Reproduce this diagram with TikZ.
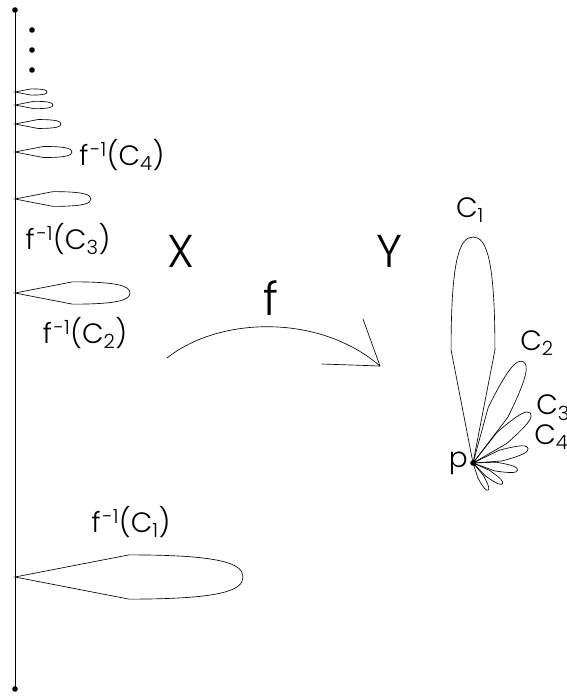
\documentclass[tikz,border=0pt]{standalone}
\usepackage{fontspec}
\setmainfont{Poppins}[UprightFont=* Light]
\newcommand{\finv}[1]{f\kern2pt\textsuperscript{-1}(C\textsubscript{#1})}
\begin{document}
\begin{tikzpicture}[x=1pt,y=-1pt,line width=0.65pt,
    petal/.pic={\draw (0,0) -- (0.5,0.097) .. controls (0.9,0.097) and (1,0.06) .. (1,0)
                .. controls (1,-0.06) and (0.9,-0.097) .. (0.5,-0.097) -- cycle;},
    lbl/.style={inner sep=0pt,font=\fontsize{28}{28}\selectfont},
    big/.style={inner sep=0pt,font=\fontsize{46}{46}\selectfont}]
  \useasboundingbox (0,0) rectangle (566,696);

  % the space X
  \coordinate (xtop) at (15,10);
  \coordinate (xbot) at (15,689);
  \draw (xtop) -- (xbot);
  \fill (xtop) circle (2.8);
  \fill (xbot) circle (2.8);
  \foreach \y in {30,50,70}
    \fill (32,\y) circle (2.8);

  % preimages of the loops
  \foreach \len/\y in {228/577, 115/293, 76/199, 57/152, 46/124, 38/105, 32/92}
    \pic[scale=\len] at (15,\y) {petal};

  \node[lbl] (pre1) at (131,522) {\finv{1}};
  \node[lbl] (pre2) at (85,333) {\finv{2}};
  \node[lbl] (pre3) at (68,239) {\finv{3}};
  \node[lbl,anchor=west] (pre4) at (79,155) {\finv{4}};

  \node[big] (X) at (181,251) {X};
  \node[big] (Y) at (389,251) {Y};

  % the map f
  \coordinate (fstart) at (167,358);
  \coordinate (ftip) at (380,366);
  \coordinate (barb1) at (363,319);
  \coordinate (barb2) at (322,364);
  \draw (fstart) .. controls (220,316) and (320,314) .. (ftip);
  \draw (barb1) -- (ftip) -- (barb2);
  \node[big] (f) at (271,298) {f};

  % the space Y: loops at p
  \coordinate (p) at (473,463);
  \foreach \len/\ang in {226/90, 113/63.7, 76/41, 57/15, 45/-9, 36/-35, 31/-61}
    \pic[rotate=\ang,scale=\len] at (p) {petal};
  \fill (p) circle (2.8);
  \node[lbl,anchor=east] (plbl) at (468,463) {p};

  \node[lbl] (C1) at (470,210) {C\textsubscript{1}};
  \node[lbl] (C2) at (537,343) {C\textsubscript{2}};
  \node[lbl,anchor=west] (C3) at (536,408) {C\textsubscript{3}};
  \node[lbl,anchor=west] (C4) at (534,437) {C\textsubscript{4}};
\end{tikzpicture}
\end{document}
